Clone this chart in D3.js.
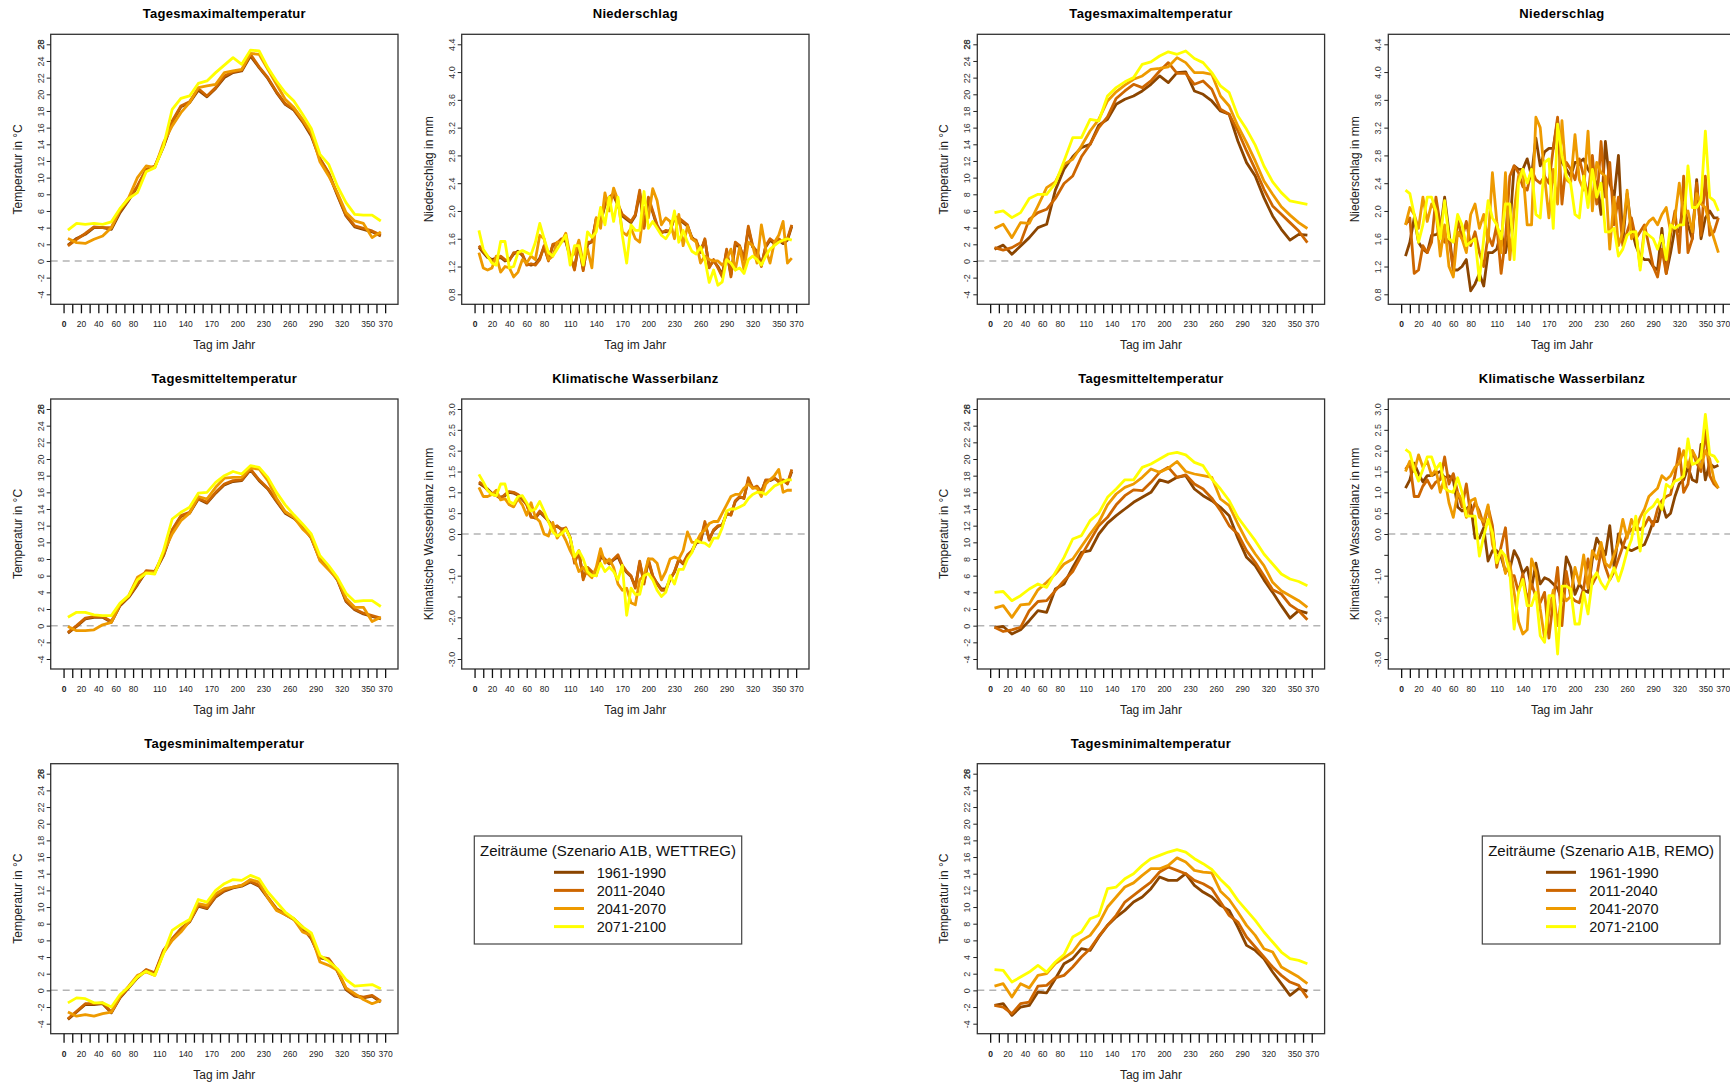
<!DOCTYPE html>
<html lang="de">
<head>
  <meta charset="UTF-8">
  <title>Zeiträume Szenario A1B – WETTREG und REMO</title>
  <style>
    body { margin: 0; background: #fff; }
    svg text { font-family: "Liberation Sans", Arial, sans-serif; }
  </style>
</head>
<body>
<svg id="chart" width="1730" height="1084"></svg>
<script src="https://d3js.org/d3.v7.min.js"></script>
<script>
// ---------- Daten ----------
const zeitraeume = ['1961-1990', '2011-2040', '2041-2070', '2071-2100'];
const farben = ['#8b4500', '#cd6600', '#ee9a00', '#ffff00'];

const tage10 = [5,15,25,35,45,55,65,75,85,95,105,115,125,135,145,155,165,175,185,195,
  205,215,225,235,245,255,265,275,285,295,305,315,325,335,345,355,365];
const tage5 = [5,10,15,20,25,30,35,40,45,50,55,60,65,70,75,80,85,90,95,100,
  105,110,115,120,125,130,135,140,145,150,155,160,165,170,175,180,185,190,195,200,
  205,210,215,220,225,230,235,240,245,250,255,260,265,270,275,280,285,290,295,300,
  305,310,315,320,325,330,335,340,345,350,355,360,365];

const xTicks = [0,10,20,30,40,50,60,70,80,90,100,110,120,130,140,150,160,170,180,190,
  200,210,220,230,240,250,260,270,280,290,300,310,320,330,340,350,360,370];
const xLabels = [0,20,40,60,80,110,140,170,200,230,260,290,320,350,370];
const tempTicks = [-4,-2,0,2,4,6,8,10,12,14,16,18,20,22,24,26];
const nsTicks = [0.8,1.2,1.6,2.0,2.4,2.8,3.2,3.6,4.0,4.4];
const kwbTicks = [-3,-2.5,-2,-1.5,-1,-0.5,0,0.5,1,1.5,2,2.5,3];
const kwbLabels = [-3,-2,-1,0,0.5,1,1.5,2,2.5,3];

// WETTREG – Tagesmaximaltemperatur
const wTmax1961 = [1.9,2.7,3.2,4.0,4.0,3.8,5.8,7.3,8.9,10.9,
  11.3,13.7,16.6,18.5,19.0,20.5,19.7,20.7,22.0,22.6,
  22.8,24.6,23.2,21.9,20.2,18.8,18.1,16.7,15.0,12.2,
  10.5,7.9,5.4,4.1,3.8,3.5,3.0];
const wTmax2011 = [1.8,2.6,3.3,4.1,4.0,4.0,6.0,7.4,9.0,11.0,
  11.4,13.8,16.8,18.6,19.1,20.7,19.8,20.8,22.2,22.7,
  22.9,24.8,23.3,22.0,20.3,18.9,18.2,16.8,15.2,12.3,
  10.6,8.0,5.5,4.2,3.9,3.6,3.1];
const wTmax2041 = [2.7,2.2,2.1,2.6,3.0,4.0,6.2,7.6,10.0,11.4,
  11.2,14.2,16.2,17.8,19.0,20.8,21.0,21.2,22.6,22.8,
  23.0,24.9,24.8,23.0,21.2,19.4,18.4,17.0,15.4,11.9,
  10.2,8.2,5.8,4.8,4.5,2.8,3.5];
const wTmax2071 = [3.7,4.5,4.4,4.5,4.4,4.7,6.3,7.5,8.2,10.7,
  11.2,13.8,18.2,19.5,19.8,21.3,21.6,22.6,23.5,24.4,
  23.6,25.3,25.2,23.2,21.6,20.2,19.2,17.6,15.9,12.8,
  11.6,9.0,7.0,5.6,5.5,5.5,4.8];

// WETTREG – Tagesmitteltemperatur
const wTmit1961 = [-0.9,-0.1,0.8,1.0,1.0,0.4,2.4,3.4,4.9,6.5,
  6.4,8.4,11.4,13.1,13.5,15.2,14.7,15.9,16.9,17.3,
  17.4,18.7,17.4,16.4,14.9,13.5,12.9,11.9,10.5,7.9,
  6.9,5.5,2.9,1.9,1.4,1.1,0.8];
const wTmit2011 = [-0.8,0.0,0.9,1.1,1.1,0.5,2.5,3.5,5.0,6.6,
  6.5,8.5,11.5,13.2,13.6,15.3,14.8,16.0,17.0,17.4,
  17.5,18.8,17.5,16.5,15.0,13.6,13.0,12.0,10.6,8.0,
  7.0,5.6,3.0,2.0,1.5,1.2,0.9];
const wTmit2041 = [-0.1,-0.6,-0.6,-0.5,0.1,0.4,2.6,3.6,5.8,6.4,
  6.4,8.8,11.0,12.6,13.5,15.5,15.2,16.6,17.7,17.8,
  17.8,18.9,18.8,17.4,15.3,13.7,13.0,11.6,10.6,7.8,
  6.7,5.6,3.3,2.2,2.2,0.5,1.0];
const wTmit2071 = [1.0,1.6,1.6,1.3,1.2,1.2,2.7,3.6,5.5,6.3,
  6.2,9.0,12.8,13.6,14.2,15.9,16.0,17.2,18.0,18.5,
  18.2,19.2,19.0,17.8,16.0,14.5,13.3,12.2,11.0,8.4,
  7.2,5.8,3.9,2.9,3.0,3.0,2.3];

// WETTREG – Tagesminimaltemperatur
const wTmin1961 = [-3.5,-2.6,-1.7,-1.7,-1.6,-2.7,-0.9,0.3,1.5,2.4,
  2.0,4.7,6.1,7.3,8.2,10.1,9.8,11.2,11.9,12.3,
  12.5,13.0,12.5,11.1,9.7,9.1,8.5,7.5,6.2,3.9,
  3.7,2.3,0.1,-0.7,-0.9,-0.7,-1.4];
const wTmin2011 = [-3.4,-2.5,-1.6,-1.6,-1.5,-2.6,-0.8,0.4,1.6,2.5,
  2.1,4.8,6.2,7.4,8.3,10.2,9.9,11.3,12.0,12.4,
  12.6,13.1,12.6,11.2,9.8,9.2,8.6,7.6,6.3,4.0,
  3.8,2.4,0.2,-0.6,-0.8,-0.6,-1.3];
const wTmin2041 = [-2.6,-3.1,-2.9,-3.1,-2.8,-2.6,-0.7,0.5,1.8,2.2,
  1.8,4.5,6.0,7.0,8.3,10.4,10.2,11.6,12.2,12.4,
  12.6,13.3,13.0,11.1,9.6,9.1,8.5,7.0,6.6,3.4,
  3.0,2.4,0.3,-0.4,-1.1,-1.6,-1.2];
const wTmin2071 = [-1.5,-0.9,-1.0,-1.5,-1.5,-2.0,-0.5,0.4,1.6,2.3,
  1.8,4.4,7.2,7.9,8.5,10.9,10.6,12.0,12.8,13.3,
  13.2,13.8,13.4,11.8,10.6,9.4,8.6,7.6,6.9,4.2,
  3.5,2.6,1.3,0.5,0.6,0.7,0.2];

// WETTREG – Niederschlag
const wNs1961 = [1.48,1.40,1.33,1.30,1.32,1.33,1.28,1.30,1.38,1.42,
  1.36,1.24,1.22,1.24,1.32,1.48,1.30,1.50,1.52,1.58,
  1.56,1.33,1.18,1.52,1.16,1.52,1.56,1.88,1.83,2.08,
  2.18,2.22,2.08,1.93,1.88,1.83,1.93,2.26,1.78,2.16,
  1.98,1.78,1.70,1.70,1.72,1.90,1.88,1.83,1.78,1.62,
  1.56,1.42,1.58,1.20,1.28,1.20,1.08,1.42,1.08,1.52,
  1.48,1.32,1.75,1.48,1.42,1.22,1.48,1.58,1.53,1.58,
  1.53,1.58,1.78];
const wNs2011 = [1.50,1.42,1.35,1.28,1.30,1.35,1.30,1.28,1.40,1.40,
  1.38,1.22,1.24,1.22,1.30,1.50,1.28,1.52,1.54,1.60,
  1.58,1.35,1.15,1.55,1.14,1.55,1.55,1.90,1.85,2.10,
  2.20,2.25,2.10,1.95,1.90,1.85,1.95,2.30,1.75,2.20,
  2.00,1.80,1.68,1.72,1.70,1.92,1.90,1.85,1.80,1.60,
  1.58,1.40,1.60,1.18,1.30,1.18,1.05,1.45,1.05,1.55,
  1.50,1.30,1.78,1.50,1.40,1.20,1.50,1.60,1.55,1.60,
  1.55,1.60,1.80];
const wNs2041 = [1.40,1.18,1.15,1.18,1.35,1.12,1.20,1.18,1.05,1.12,
  1.30,1.25,1.35,1.30,1.65,1.60,1.30,1.35,1.55,1.55,
  1.68,1.35,1.38,1.58,1.25,1.45,1.18,1.90,1.75,2.26,
  2.00,2.33,2.15,1.70,1.65,1.75,1.60,1.55,2.05,1.90,
  2.32,2.15,1.80,1.90,1.85,1.60,1.95,1.50,1.78,1.60,
  1.55,1.25,1.35,1.30,1.28,1.28,1.22,1.30,1.45,1.15,
  1.48,1.15,1.55,1.50,1.25,1.80,1.45,1.25,1.55,1.65,
  1.85,1.25,1.32];
const wNs2071 = [1.72,1.45,1.35,1.25,1.22,1.56,1.56,1.18,1.20,1.40,
  1.43,1.40,1.37,1.55,1.82,1.60,1.40,1.35,1.45,1.55,
  1.65,1.22,1.50,1.50,1.22,1.70,1.62,1.70,2.05,1.80,
  2.20,1.85,2.20,1.65,1.25,1.80,1.72,1.72,2.28,1.75,
  1.85,1.75,1.65,1.60,1.70,2.00,1.55,1.72,1.55,1.42,
  1.38,1.48,1.30,0.97,1.15,0.93,0.98,1.30,1.25,1.15,
  1.18,1.10,1.30,1.35,1.30,1.22,1.35,1.45,1.50,1.55,
  1.58,1.60,1.58];

// WETTREG – Klimatische Wasserbilanz
const wKwb1961 = [1.22,1.15,1.08,0.98,0.95,0.88,0.92,1.00,0.98,0.93,
  0.83,0.72,0.42,0.38,0.52,0.42,0.32,0.18,0.18,0.12,
  0.12,-0.08,-0.65,-0.45,-1.05,-0.85,-0.92,-0.98,-0.55,-0.62,
  -0.72,-0.62,-0.55,-0.78,-0.92,-1.02,-1.25,-0.70,-1.15,-0.65,
  -1.02,-1.18,-1.32,-1.32,-1.08,-0.92,-0.62,-0.72,-0.52,-0.42,
  -0.22,-0.18,0.25,-0.12,0.08,0.18,0.22,0.48,0.47,0.78,
  0.88,0.87,1.30,1.12,1.12,1.02,1.28,1.28,1.33,1.27,
  1.28,1.22,1.50];
const wKwb2011 = [1.25,1.18,1.05,0.95,0.92,0.85,0.95,1.02,1.00,0.95,
  0.85,0.70,0.40,0.40,0.55,0.45,0.30,0.15,0.20,0.10,
  0.15,-0.10,-0.70,-0.40,-1.10,-0.80,-0.90,-1.00,-0.50,-0.60,
  -0.70,-0.60,-0.50,-0.75,-0.90,-1.00,-1.30,-0.65,-1.20,-0.60,
  -1.00,-1.20,-1.35,-1.35,-1.10,-0.90,-0.60,-0.70,-0.50,-0.40,
  -0.20,-0.15,0.30,-0.15,0.10,0.20,0.20,0.50,0.45,0.80,
  0.90,0.85,1.35,1.10,1.15,1.00,1.30,1.30,1.35,1.25,
  1.30,1.20,1.55];
const wKwb2041 = [1.12,0.90,0.90,0.95,1.05,0.82,0.85,0.70,0.65,0.85,
  0.70,0.45,0.75,0.40,0.30,0.00,-0.05,0.28,-0.10,0.05,
  -0.15,-0.40,-0.60,-0.90,-0.80,-0.95,-1.05,-0.80,-0.35,-0.70,
  -0.60,-0.80,-1.20,-1.35,-1.30,-1.65,-1.70,-1.10,-1.00,-0.60,
  -0.60,-0.70,-1.10,-0.90,-0.60,-0.55,-0.60,-0.40,0.05,-0.20,
  -0.20,0.00,0.10,0.25,0.30,0.30,0.50,0.70,0.90,0.95,
  0.95,1.10,1.20,1.10,1.10,0.90,1.20,1.30,1.40,1.55,
  1.00,1.05,1.05];
const wKwb2071 = [1.43,1.25,1.05,0.95,0.92,1.20,1.20,0.78,0.72,0.90,
  0.92,0.75,0.55,0.60,0.78,0.55,0.30,0.05,-0.05,0.00,
  0.12,-0.10,-0.55,-0.40,-0.60,-0.90,-1.00,-1.00,-0.70,-0.90,
  -0.80,-0.90,-1.10,-0.75,-1.95,-1.30,-1.45,-1.45,-1.00,-0.95,
  -1.10,-1.35,-1.50,-1.40,-1.00,-1.20,-0.85,-0.85,-0.60,-0.45,
  -0.15,-0.20,-0.22,-0.30,-0.10,-0.10,0.15,0.55,0.60,0.60,
  0.65,0.70,0.85,0.95,1.00,1.00,0.95,1.05,1.15,1.20,
  1.25,1.30,1.30];

// REMO – Tagesmaximaltemperatur
const rTmax1961 = [1.4,1.9,0.8,1.8,2.8,4.0,4.4,8.5,11.0,12.5,
  13.6,14.0,16.3,17.0,18.8,19.4,19.8,20.4,21.2,22.2,
  21.4,22.6,22.7,20.4,20.0,19.2,18.0,17.6,14.4,11.8,
  10.2,7.6,5.4,3.8,2.5,3.2,3.1];
const rTmax2011 = [1.6,1.3,1.6,2.2,5.0,5.8,6.2,7.5,9.3,10.2,
  12.5,14.0,16.0,17.3,19.5,20.4,21.2,20.8,21.6,22.8,
  23.8,22.5,22.5,21.2,21.6,20.6,18.2,17.6,15.6,13.2,
  11.0,8.6,6.6,5.6,4.6,3.6,2.2];
const rTmax2041 = [3.9,4.4,2.8,4.6,4.5,6.6,8.8,9.5,11.6,12.2,
  13.8,15.6,17.0,19.2,20.3,21.1,21.8,22.2,23.0,23.1,
  23.3,24.4,23.8,22.6,22.6,22.4,19.8,18.6,16.2,14.2,
  12.0,9.6,8.0,6.5,5.5,4.6,3.9];
const rTmax2071 = [5.8,6.0,5.2,5.8,7.5,8.0,8.0,9.3,12.0,14.8,
  14.8,17.0,16.8,19.8,20.8,21.5,22.0,23.6,23.9,24.6,
  25.1,24.8,25.2,24.3,23.8,22.6,21.0,20.2,17.4,15.8,
  13.9,11.4,9.5,8.2,7.2,7.0,6.8];

// REMO – Tagesmitteltemperatur
const rTmit1961 = [-0.2,-0.1,-1.0,-0.5,0.6,1.8,1.6,4.4,5.0,7.0,
  8.8,9.0,11.0,12.3,13.2,14.0,14.8,15.4,16.0,17.5,
  17.2,17.8,18.0,16.4,15.6,15.0,14.2,13.2,10.5,8.2,
  7.2,5.5,4.0,2.4,0.9,1.8,1.5];
const rTmit2011 = [-0.2,-0.7,-0.5,-0.2,1.8,2.9,3.0,4.2,5.4,6.5,
  8.4,10.2,12.0,13.0,14.5,15.6,16.3,16.2,17.2,18.4,
  19.0,17.8,18.1,17.0,16.4,15.3,13.8,12.0,11.0,9.0,
  7.6,6.0,4.3,3.8,2.5,1.8,0.7];
const rTmit2041 = [2.1,2.4,1.0,2.5,2.6,4.3,5.2,6.2,7.4,8.0,
  9.5,11.0,12.4,14.5,15.8,16.6,17.0,17.8,18.8,18.4,
  18.9,19.7,18.5,18.2,18.0,17.8,15.2,14.4,12.2,10.2,
  8.6,7.2,5.2,4.2,3.6,3.0,2.2];
const rTmit2071 = [4.0,4.1,3.0,3.6,4.4,5.0,4.6,6.4,8.2,10.4,
  10.8,12.6,13.5,15.4,16.4,17.5,17.5,19.0,19.4,20.0,
  20.6,20.8,20.5,19.6,19.2,17.6,16.4,15.0,13.0,11.6,
  10.2,8.6,7.4,6.2,5.6,5.3,4.8];

// REMO – Tagesminimaltemperatur
const rTmin1961 = [-1.8,-1.6,-3.0,-2.0,-1.8,-0.2,-0.3,1.4,3.2,3.8,
  5.0,4.8,6.4,7.8,8.8,9.6,10.6,11.2,12.2,13.6,
  13.2,13.2,14.0,12.6,11.8,11.2,10.2,9.6,7.6,5.4,
  4.8,3.8,2.2,0.8,-0.6,0.2,-0.1];
const rTmin2011 = [-1.8,-2.0,-2.8,-1.6,-1.4,0.5,0.6,1.5,1.8,2.8,
  4.0,5.0,6.5,7.8,9.0,10.6,11.4,12.2,13.0,14.2,
  14.8,14.4,14.0,13.2,12.8,12.2,10.6,9.0,8.2,6.4,
  5.2,4.0,2.8,1.8,1.0,0.6,-0.9];
const rTmin2041 = [0.5,0.8,-0.8,0.8,0.3,1.8,2.0,3.2,3.9,4.6,
  6.0,6.6,8.0,10.0,11.2,12.4,12.9,13.8,14.6,14.6,
  15.0,15.9,15.4,14.4,14.2,14.1,11.9,10.9,9.4,7.8,
  6.6,5.0,4.6,2.8,2.2,1.6,0.8];
const rTmin2071 = [2.5,2.4,1.0,1.6,2.2,3.0,2.2,3.4,4.3,6.4,
  7.0,8.6,9.0,12.2,12.4,13.4,14.0,15.0,15.8,16.2,
  16.6,16.9,16.6,15.8,15.2,14.5,13.3,12.3,10.8,9.6,
  8.4,7.0,5.8,4.6,3.8,3.6,3.2];

// REMO – Niederschlag
const rNs1961 = [1.35,1.55,1.90,1.55,1.45,1.40,1.65,1.66,1.70,2.20,
  1.70,1.15,1.15,1.20,1.30,0.85,0.95,1.10,0.92,1.40,
  1.40,1.45,1.70,1.40,1.75,2.65,2.60,2.60,2.75,2.50,
  3.05,2.65,2.85,2.90,2.90,3.30,2.70,2.60,2.50,2.70,
  2.70,2.75,2.60,2.50,2.40,1.95,3.00,2.40,2.20,2.80,
  1.55,2.25,1.75,1.50,1.35,1.30,1.30,1.20,1.15,1.75,
  1.10,1.40,1.75,1.70,2.10,1.80,1.60,2.45,1.60,1.90,
  2.00,1.90,1.90];
const rNs2011 = [1.80,1.90,1.10,1.15,1.50,1.40,1.55,2.20,1.80,1.55,
  1.60,1.15,1.90,1.60,1.85,1.50,1.70,1.40,1.20,1.65,
  1.50,1.80,1.10,1.60,2.50,2.65,2.55,2.35,2.30,2.60,
  2.45,2.40,2.50,2.40,2.90,3.35,2.10,2.70,2.60,2.45,
  2.75,2.50,2.20,2.80,2.10,3.00,2.20,2.70,1.80,2.20,
  1.50,1.70,1.90,1.60,1.70,1.80,1.50,1.20,1.05,1.45,
  1.10,1.65,2.00,1.40,2.50,1.40,1.60,2.40,1.65,2.50,
  1.65,1.70,1.90];
const rNs2041 = [1.80,2.05,1.95,1.75,2.20,1.85,2.10,2.00,1.35,1.80,
  1.20,1.05,1.70,1.60,1.40,1.95,2.10,1.75,1.95,1.55,
  2.55,1.85,1.40,2.55,1.30,2.00,2.50,2.60,1.80,1.80,
  3.35,3.20,2.50,1.90,2.60,2.10,3.30,2.45,2.40,3.10,
  2.45,2.30,3.15,2.00,2.70,2.55,2.50,1.45,2.20,1.50,
  1.70,2.30,1.60,1.70,1.20,1.75,1.85,1.90,1.80,1.95,
  2.05,1.70,1.90,2.40,1.95,2.00,1.70,2.25,2.10,2.05,
  1.80,1.60,1.40];
const rNs2071 = [2.30,2.25,1.95,1.55,1.80,2.20,2.20,2.00,1.60,2.15,
  1.60,1.55,1.95,1.80,1.50,1.55,1.60,1.00,1.60,2.15,
  1.90,1.80,1.60,2.10,2.10,1.30,2.40,2.60,2.40,2.60,
  1.95,1.90,2.70,2.75,1.75,3.25,2.80,2.50,2.40,1.95,
  1.90,2.50,2.05,2.60,2.20,2.40,1.70,1.70,1.75,1.35,
  1.45,1.65,1.70,1.70,1.15,1.70,1.65,1.60,1.45,1.65,
  1.30,1.80,1.75,1.80,1.80,2.65,2.05,2.05,2.15,3.15,
  2.20,2.15,2.00];

// REMO – Klimatische Wasserbilanz
const rKwb1961 = [1.10,1.30,1.70,1.45,1.25,1.40,1.40,1.45,1.50,1.35,
  1.40,1.30,0.65,0.55,0.60,0.70,-0.10,-0.10,0.15,-0.65,
  -0.40,-0.40,-0.55,-0.90,-0.85,-0.40,-0.60,-0.95,-0.80,-1.30,
  -0.70,-1.20,-1.05,-1.10,-1.20,-1.30,-1.60,-0.55,-0.80,-1.45,
  -1.20,-1.35,-1.40,-0.60,-0.10,-0.30,-0.50,0.20,-0.80,0.00,
  -0.30,-0.35,-0.40,-0.35,-0.30,-0.25,0.00,0.30,0.30,0.75,
  0.40,0.50,0.90,1.20,1.30,1.60,1.30,1.25,2.15,1.30,
  1.70,1.60,1.65];
const rKwb2011 = [1.55,1.70,0.90,0.90,1.15,1.30,1.10,1.25,1.30,1.85,
  1.20,1.45,1.00,0.65,1.20,0.45,0.75,0.55,0.20,0.65,
  0.20,-0.80,-0.30,0.15,-1.00,-1.00,-1.40,-0.95,-1.60,-1.20,
  -1.50,-1.65,-1.40,-2.50,-1.60,-0.80,-2.20,-0.90,-1.50,-1.60,
  -1.65,-1.30,-0.60,-1.20,-1.00,-0.40,-0.80,-1.10,-0.90,-0.60,
  -0.30,0.00,0.10,0.20,0.10,0.20,0.40,0.20,0.60,0.80,
  0.90,0.95,1.40,2.05,1.00,1.20,2.00,1.70,1.50,2.50,
  1.40,1.20,1.10];
const rKwb2041 = [1.50,1.75,1.50,1.90,1.60,1.75,1.40,1.55,1.00,1.35,
  0.75,0.40,1.00,0.80,0.40,0.80,0.85,0.40,0.30,0.70,
  -0.25,-0.60,-0.40,-0.95,-0.70,-1.40,-2.10,-2.40,-2.30,-0.60,
  -0.90,-1.80,-2.50,-1.90,-1.35,-2.20,-1.40,-1.60,-1.50,-0.80,
  -1.20,-0.50,-1.30,-0.40,-0.60,-0.20,-0.70,-0.80,-0.50,-0.20,
  0.35,-0.10,0.35,0.10,0.40,0.60,0.90,1.00,1.10,1.40,
  1.30,1.40,1.60,1.70,2.00,1.60,2.00,1.80,1.60,2.00,
  1.80,1.30,1.10];
const rKwb2071 = [2.03,1.95,1.55,1.27,1.55,1.85,1.85,1.55,1.70,1.10,
  1.03,1.00,1.35,1.00,0.43,0.43,0.43,-0.53,-0.05,0.35,
  0.03,-0.69,-0.40,-0.53,-0.93,-2.28,-1.40,-1.09,-1.72,-1.72,
  -1.40,-2.44,-2.60,-1.48,-1.48,-2.88,-1.25,-1.25,-1.32,-2.16,
  -2.16,-1.40,-1.92,-1.09,-0.93,-1.17,-1.32,-1.09,-0.81,-1.13,
  -0.81,-0.41,-0.13,0.43,-0.41,0.47,0.59,0.67,0.83,0.59,
  1.19,1.11,1.27,1.31,1.39,2.28,1.67,1.71,1.83,2.87,
  1.91,1.87,1.71];

// ---------- Layout ----------
const svg = d3.select('#chart');
const boxB = 347.3, boxH = 270;
const spaltenX = [50.7, 461.7, 977.3, 1388.3];
const zeilenY = [34.3, 399, 763.7];

const achsen = {
  temp: { domain: [-5.2, 27.2], ticks: tempTicks, labels: tempTicks, fmt: d => String(d), titel: 'Temperatur in °C' },
  ns:   { domain: [0.656, 4.544], ticks: nsTicks, labels: nsTicks, fmt: d => d.toFixed(1), titel: 'Niederschlag in mm' },
  kwb:  { domain: [-3.24, 3.24], ticks: kwbTicks, labels: kwbLabels, fmt: d => d.toFixed(1), titel: 'Klimatische Wasserbilanz in mm' }
};

const panels = [
  { titel: 'Tagesmaximaltemperatur', art: 'temp', spalte: 0, zeile: 0, tage: tage10, reihen: [wTmax1961, wTmax2011, wTmax2041, wTmax2071] },
  { titel: 'Niederschlag', art: 'ns', spalte: 1, zeile: 0, tage: tage5, reihen: [wNs1961, wNs2011, wNs2041, wNs2071] },
  { titel: 'Tagesmitteltemperatur', art: 'temp', spalte: 0, zeile: 1, tage: tage10, reihen: [wTmit1961, wTmit2011, wTmit2041, wTmit2071] },
  { titel: 'Klimatische Wasserbilanz', art: 'kwb', spalte: 1, zeile: 1, tage: tage5, reihen: [wKwb1961, wKwb2011, wKwb2041, wKwb2071] },
  { titel: 'Tagesminimaltemperatur', art: 'temp', spalte: 0, zeile: 2, tage: tage10, reihen: [wTmin1961, wTmin2011, wTmin2041, wTmin2071] },
  { titel: 'Tagesmaximaltemperatur', art: 'temp', spalte: 2, zeile: 0, tage: tage10, reihen: [rTmax1961, rTmax2011, rTmax2041, rTmax2071] },
  { titel: 'Niederschlag', art: 'ns', spalte: 3, zeile: 0, tage: tage5, reihen: [rNs1961, rNs2011, rNs2041, rNs2071] },
  { titel: 'Tagesmitteltemperatur', art: 'temp', spalte: 2, zeile: 1, tage: tage10, reihen: [rTmit1961, rTmit2011, rTmit2041, rTmit2071] },
  { titel: 'Klimatische Wasserbilanz', art: 'kwb', spalte: 3, zeile: 1, tage: tage5, reihen: [rKwb1961, rKwb2011, rKwb2041, rKwb2071] },
  { titel: 'Tagesminimaltemperatur', art: 'temp', spalte: 2, zeile: 2, tage: tage10, reihen: [rTmin1961, rTmin2011, rTmin2041, rTmin2071] }
];

const x = d3.scaleLinear().domain([-14.8, 384.8]).range([0, boxB]);

function zeichnePanel(p) {
  const achse = achsen[p.art];
  const y = d3.scaleLinear().domain(achse.domain).range([boxH, 0]);
  const g = svg.append('g')
    .attr('transform', `translate(${spaltenX[p.spalte]},${zeilenY[p.zeile]})`);

  // Titel
  g.append('text')
    .attr('x', boxB / 2).attr('y', -16)
    .attr('text-anchor', 'middle')
    .style('font-size', '13px').style('font-weight', 'bold')
    .style('letter-spacing', '0.3px')
    .text(p.titel);

  // Nulllinie (nur wenn 0 im Wertebereich liegt)
  if (achse.domain[0] < 0) {
    g.append('line')
      .attr('x1', 0).attr('x2', boxB)
      .attr('y1', y(0)).attr('y2', y(0))
      .attr('stroke', '#b4b4b4').attr('stroke-width', 1.5)
      .attr('stroke-dasharray', '7,5');
  }

  // Linien der Zeiträume
  const linie = d3.line()
    .x(d => x(d[0]))
    .y(d => y(d[1]));
  p.reihen.forEach((werte, i) => {
    g.append('path')
      .datum(werte.map((w, k) => [p.tage[k], w]))
      .attr('d', linie)
      .attr('fill', 'none')
      .attr('stroke', farben[i])
      .attr('stroke-width', 2.8)
      .attr('stroke-linejoin', 'round');
  });

  // Rahmen
  g.append('rect')
    .attr('width', boxB).attr('height', boxH)
    .attr('fill', 'none').attr('stroke', '#333').attr('stroke-width', 1.3);

  // x-Achse
  const xAchse = g.append('g')
    .attr('transform', `translate(0,${boxH})`)
    .call(d3.axisBottom(x).tickValues(xTicks).tickSize(9).tickSizeOuter(0)
      .tickFormat(d => xLabels.includes(d) ? String(d) : ''));
  xAchse.select('.domain').remove();
  xAchse.selectAll('line').attr('stroke', '#111').attr('stroke-width', 1.3);
  xAchse.selectAll('text')
    .attr('y', 23).attr('dy', null)
    .attr('fill', '#222')
    .style('font-size', '8.5px')
    .style('font-weight', d => d === 0 ? 'bold' : 'normal');

  // y-Achse
  const yAchse = g.append('g')
    .call(d3.axisLeft(y).tickValues(achse.ticks).tickSize(4).tickSizeOuter(0)
      .tickFormat(d => achse.labels.includes(d) ? achse.fmt(d) : ''));
  yAchse.select('.domain').remove();
  yAchse.selectAll('line').attr('stroke', '#222');
  yAchse.selectAll('text')
    .attr('x', null).attr('dy', null)
    .attr('text-anchor', 'middle')
    .attr('transform', 'translate(-7,0) rotate(-90)')
    .attr('fill', '#333')
    .style('font-size', '9px');
  if (p.art === 'temp') {
    g.append('text')
      .attr('text-anchor', 'middle')
      .attr('transform', `translate(-7,${y(26)}) rotate(-90)`)
      .attr('fill', '#333').style('font-size', '9px')
      .text('28');
  }

  // Achsentitel
  g.append('text')
    .attr('x', boxB / 2).attr('y', boxH + 45)
    .attr('text-anchor', 'middle')
    .attr('fill', '#222')
    .style('font-size', '12px')
    .text('Tag im Jahr');
  g.append('text')
    .attr('text-anchor', 'middle')
    .attr('transform', `translate(-29,${boxH / 2}) rotate(-90)`)
    .attr('fill', '#222')
    .style('font-size', '12px')
    .text(achse.titel);
}

panels.forEach(zeichnePanel);

// ---------- Legenden ----------
const legenden = [
  { titel: 'Zeiträume (Szenario A1B, WETTREG)', x0: 474.3, x1: 741.7, linieX: 554, textX: 596.7 },
  { titel: 'Zeiträume (Szenario A1B, REMO)', x0: 1482.3, x1: 1720, linieX: 1546, textX: 1589.3 }
];

legenden.forEach(l => {
  const g = svg.append('g');
  g.append('rect')
    .attr('x', l.x0).attr('y', 836)
    .attr('width', l.x1 - l.x0).attr('height', 108)
    .attr('fill', '#fff').attr('stroke', '#444').attr('stroke-width', 1.2);
  g.append('text')
    .attr('x', (l.x0 + l.x1) / 2).attr('y', 856)
    .attr('text-anchor', 'middle')
    .attr('fill', '#111')
    .style('font-size', '15px')
    .text(l.titel);
  zeitraeume.forEach((z, i) => {
    const yy = 872.3 + i * 18.1;
    g.append('line')
      .attr('x1', l.linieX).attr('x2', l.linieX + 30)
      .attr('y1', yy).attr('y2', yy)
      .attr('stroke', farben[i]).attr('stroke-width', 3);
    g.append('text')
      .attr('x', l.textX).attr('y', yy + 5.3)
      .attr('fill', '#111')
      .style('font-size', '14.5px')
      .text(z);
  });
});
</script>
</body>
</html>
